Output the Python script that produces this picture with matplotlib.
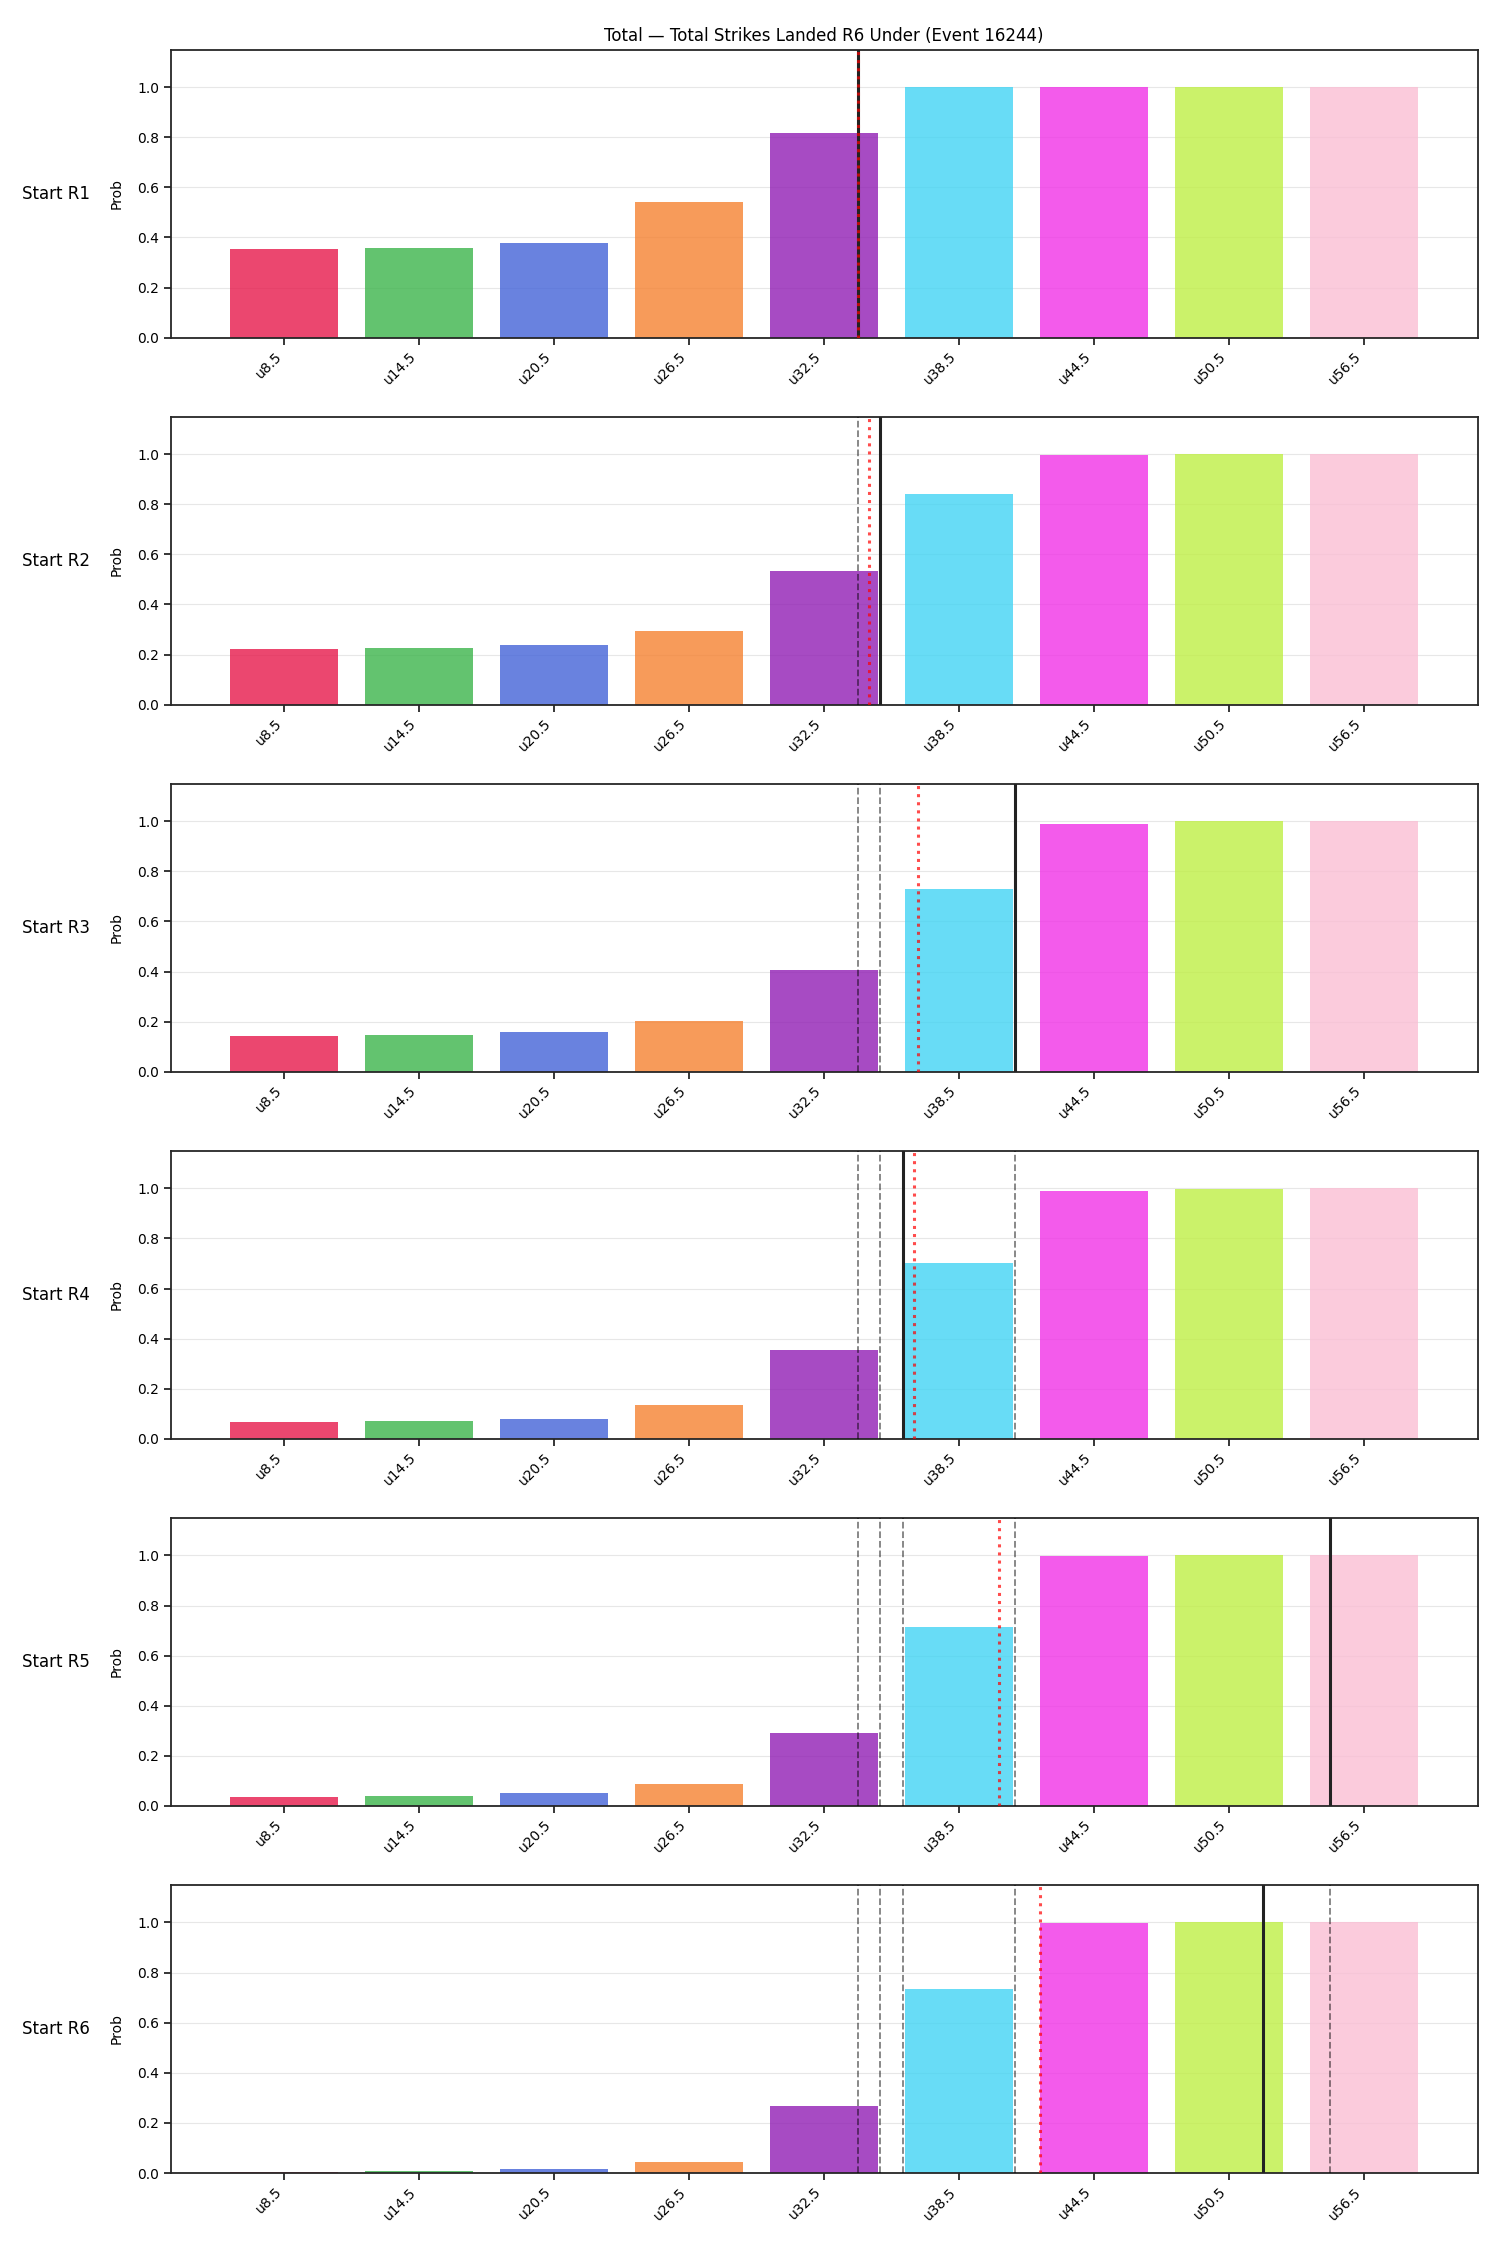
import numpy as np
import matplotlib
matplotlib.use('Agg')
import matplotlib.pyplot as plt

# linee (under) e valori numerici
lines = ['u8.5', 'u14.5', 'u20.5', 'u26.5', 'u32.5', 'u38.5', 'u44.5', 'u50.5', 'u56.5']
line_vals = [8.5, 14.5, 20.5, 26.5, 32.5, 38.5, 44.5, 50.5, 56.5]

# probabilita' per ogni round di partenza
prob_r1 = [0.353, 0.356, 0.379, 0.540, 0.818, 1.000, 1.000, 1.000, 1.000]
prob_r2 = [0.221, 0.225, 0.237, 0.293, 0.532, 0.841, 0.998, 1.000, 1.000]
prob_r3 = [0.142, 0.146, 0.158, 0.201, 0.408, 0.730, 0.988, 0.999, 1.000]
prob_r4 = [0.067, 0.071, 0.080, 0.134, 0.354, 0.702, 0.989, 0.999, 1.000]
prob_r5 = [0.034, 0.040, 0.050, 0.086, 0.290, 0.714, 0.998, 1.000, 1.000]
prob_r6 = [0.003, 0.007, 0.016, 0.046, 0.266, 0.736, 0.999, 1.000, 1.000]
probs = [prob_r1, prob_r2, prob_r3, prob_r4, prob_r5, prob_r6]

rounds = ['Start R1', 'Start R2', 'Start R3', 'Start R4', 'Start R5', 'Start R6']
start_vals = [34.0, 35.0, 41.0, 36.0, 55.0, 52.0]     # linea nera
expected_vals = [34.0, 34.5, 36.65, 36.5, 40.25, 42.1]  # linea rossa

colors = ['#e6194b', '#3cb44b', '#4363d8', '#f58231', '#911eb4',
          '#42d4f4', '#f032e6', '#bfef45', '#fabed4']

idx = np.arange(len(lines))


def to_x(v):
    return np.interp(v, line_vals, idx)


fig, axes = plt.subplots(6, 1, figsize=(15, 22.5), dpi=100)
fig.subplots_adjust(left=0.114, right=0.985, top=0.978, bottom=0.0342, hspace=0.274)

for i, ax in enumerate(axes):
    ax.bar(idx, probs[i], color=colors, alpha=0.8, width=0.8, zorder=2)
    ax.set_ylim(0, 1.15)
    ax.grid(axis='y', alpha=0.3, zorder=0)
    ax.set_axisbelow(True)
    ax.set_xticks(idx)
    ax.set_xticklabels(lines, rotation=45, ha='right')
    ax.set_ylabel('Prob', labelpad=10)
    ax.text(-0.062, 0.5, rounds[i], transform=ax.transAxes, ha='right', va='center', fontsize=12)
    for s in ax.spines.values():
        s.set_linewidth(1.3)
        s.set_color('#262626')
    ax.tick_params(length=5, width=1.3, color='#262626')

    # partenze dei round precedenti
    for v in start_vals[:i]:
        ax.axvline(to_x(v), color='black', linestyle='--', linewidth=1.3, alpha=0.5, zorder=3)
    ax.axvline(to_x(start_vals[i]), color='#222222', linewidth=2.2, zorder=4)
    ax.axvline(to_x(expected_vals[i]), color='red', linestyle=':', linewidth=2.2, alpha=0.7, zorder=5)

axes[0].set_title('Total — Total Strikes Landed R6 Under (Event 16244)', fontsize=12)

plt.savefig('out.png', dpi=100)
